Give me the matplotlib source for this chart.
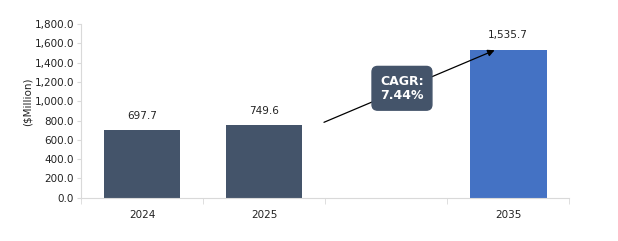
import numpy as np
import matplotlib
matplotlib.use('Agg')
import matplotlib.pyplot as plt

# data
years = ['2024', '2025', '', '2035']
values = [697.7, 749.6, np.nan, 1535.7]
bar_colors = ['#44546A', '#44546A', '#44546A', '#4472C4']
cagr_text = 'CAGR:\n7.44%'

plt.rcParams['font.family'] = ['DejaVu Sans']

fig = plt.figure(figsize=(6.18, 2.41), dpi=100)
ax = fig.add_axes([0.131, 0.18, 0.79, 0.72])

x = np.arange(len(years))
ax.bar(x, values, width=0.63, color=bar_colors)

for xi, v in zip(x, values):
    if not np.isnan(v):
        ax.annotate(f'{v:,.1f}', (xi, v), xytext=(0, 7), textcoords='offset points',
                    ha='center', va='bottom', fontsize=7.5, color='#222222')

ax.set_xlim(-0.5, len(years) - 0.5)
ax.set_ylim(0, 1800)
ax.set_yticks(np.arange(0, 1801, 200))
ax.set_yticklabels([f'{t:,.1f}' for t in np.arange(0, 1801, 200)], fontsize=7.5, color='#222222')
ax.set_xticks(x)
ax.set_xticklabels(years, fontsize=7.5, color='#222222')
ax.set_xticks(np.arange(-0.5, len(years)), minor=True)
ax.tick_params(axis='x', which='major', length=0, pad=9)
ax.tick_params(axis='x', which='minor', length=4, color='#D9D9D9')
ax.tick_params(axis='y', length=3, color='#D9D9D9', pad=2)

for s in ['top', 'right']:
    ax.spines[s].set_visible(False)
ax.spines['left'].set_color('#D9D9D9')
ax.spines['bottom'].set_color('#D9D9D9')

ax.set_ylabel('($Million)', fontsize=7.5, color='#222222')
ax.yaxis.set_label_coords(-0.1, 0.55)

# CAGR arrow and box
ax.annotate('', xy=(2.91, 1540), xytext=(1.47, 770),
            arrowprops=dict(arrowstyle='-|>', color='black', lw=0.9, mutation_scale=10))
ax.text(2.13, 1134, cagr_text, ha='center', va='center', fontsize=9, fontweight='bold',
        color='white', linespacing=1.15,
        bbox=dict(boxstyle='round,pad=0.65,rounding_size=0.45', fc='#44546A', ec='#44546A'))

fig.savefig('out.png', dpi=100)
